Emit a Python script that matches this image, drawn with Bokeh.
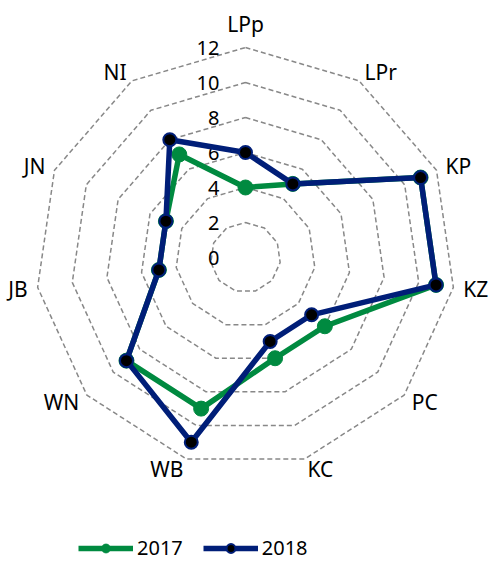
import math
from bokeh.plotting import figure
from bokeh.models import Range1d, Legend, LegendItem
from bokeh.core.properties import value
from bokeh.embed import file_html
from bokeh.resources import INLINE

categories = ["LPp", "LPr", "KP", "KZ", "PC", "KC", "WB", "WN", "JB", "JN", "NI"]
series_2017 = [4, 5, 11, 11, 6, 6, 9, 9, 5, 5, 7]
series_2018 = [6, 5, 11, 11, 5, 5, 11, 9, 5, 5, 8]
ring_values = [2, 4, 6, 8, 10, 12]
tick_labels = ["0", "2", "4", "6", "8", "10", "12"]
tick_values = [0, 2, 4, 6, 8, 10, 12]

GREEN = "#008a40"
NAVY = "#001e78"
FONT = "Noto Sans"

W, H = 489, 561
CX, CY = 245, 257          # centre in canvas pixels
S = 17.5                   # pixels per unit

p = figure(width=W, height=H, output_backend="svg", toolbar_location=None,
           x_range=Range1d(-CX / S, (W - CX) / S),
           y_range=Range1d(-(H - CY) / S, CY / S),
           min_border=0)
p.axis.visible = False
p.grid.visible = False
p.outline_line_color = None
p.background_fill_color = "white"

n = len(categories)
angles = [2 * math.pi * i / n for i in range(n)]


def polar(vals):
    xs = [v * math.sin(a) for v, a in zip(vals, angles)]
    ys = [v * math.cos(a) for v, a in zip(vals, angles)]
    return xs, ys


# rings
for rv in ring_values:
    xs, ys = polar([rv] * n)
    p.line(xs + xs[:1], ys + ys[:1], line_color="#888888", line_width=1.5,
           line_dash="5 3")

# radial tick labels
p.text(x=[-26 / S] * len(tick_values), y=tick_values, text=tick_labels,
       text_align="right", text_baseline="middle",
       text_font=value(FONT), text_font_size="20px", text_color="black")

# category labels (anchored just outside the outer ring)
label_r = max(ring_values) + 10 / S
lx, ly = polar([label_r] * n)
for cat, a, x, y in zip(categories, angles, lx, ly):
    sx = math.sin(a)
    if abs(sx) < 1e-6:
        align = "center"
        base = "bottom" if math.cos(a) > 0 else "top"
    else:
        align = "left" if sx > 0 else "right"
        base = "middle"
    p.text(x=[x], y=[y], text=[cat], text_align=align, text_baseline=base,
           text_font=value(FONT), text_font_size="21px", text_color="black")

# series
x17, y17 = polar(series_2017)
x18, y18 = polar(series_2018)
l17 = p.line(x17 + x17[:1], y17 + y17[:1], line_color=GREEN, line_width=5.5)
m17 = p.scatter(x17, y17, size=15, fill_color=GREEN, line_color=GREEN, line_width=1)
l18 = p.line(x18 + x18[:1], y18 + y18[:1], line_color=NAVY, line_width=5.5)
m18 = p.scatter(x18, y18, size=13, fill_color="black", line_color=NAVY, line_width=2)

legend = Legend(items=[LegendItem(label="2017", renderers=[l17, m17]),
                       LegendItem(label="2018", renderers=[l18, m18])],
                orientation="horizontal", location=(78, 0),
                glyph_width=55, glyph_height=22, label_height=22,
                label_standoff=4, spacing=20,
                padding=0, margin=0, border_line_color=None,
                background_fill_alpha=0,
                label_text_font=FONT, label_text_font_size="20px",
                label_text_color="black")
p.add_layout(legend, "center")

open("out.html", "w").write(file_html(p, INLINE))
